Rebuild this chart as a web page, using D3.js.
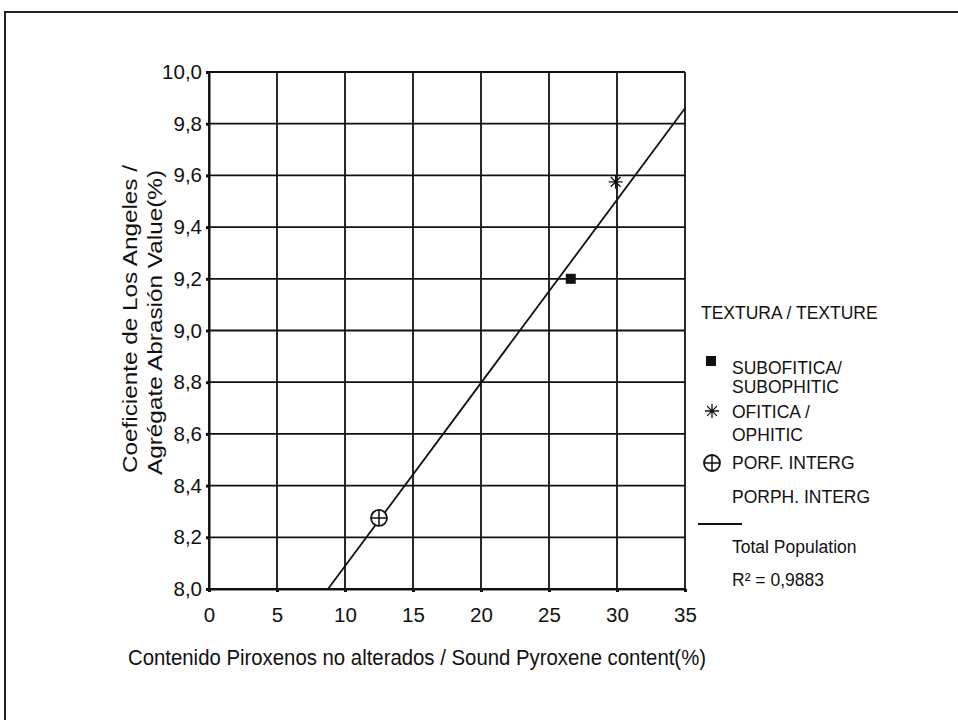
<!DOCTYPE html>
<html>
<head>
<meta charset="utf-8">
<script src="https://cdn.jsdelivr.net/npm/d3@7"></script>
<style>
  body { margin: 0; background: #fff; }
  text { font-family: "Liberation Sans", Arial, sans-serif; fill: #111; }
</style>
</head>
<body>
<div id="chart"></div>
<script>
// data
const xTicks = [0, 5, 10, 15, 20, 25, 30, 35];
const yTicks = [8.0, 8.2, 8.4, 8.6, 8.8, 9.0, 9.2, 9.4, 9.6, 9.8, 10.0];
const subofitica = [{x: 26.6, y: 9.2}];
const ofitica = [{x: 29.9, y: 9.575}];
const porfInterg = [{x: 12.5, y: 8.275}];
const trendX = [8.75, 35];
const trendY = [8.0, 9.86];
const rSquared = "0,9883";

const width = 958, height = 720;
const margin = {left: 209, right: 273, top: 72, bottom: 131};

const svg = d3.select("#chart").append("svg")
    .attr("width", width).attr("height", height);

// outer frame
svg.append("rect").attr("x", 5).attr("y", 12)
    .attr("width", 970).attr("height", 730)
    .attr("fill", "none").attr("stroke", "#222").attr("stroke-width", 2);

const x = d3.scaleLinear().domain([0, 35]).range([margin.left, width - margin.right]);
const y = d3.scaleLinear().domain([8, 10]).range([height - margin.bottom, margin.top]);

const fmt = d => d3.format(".1f")(d).replace(".", ",");

// grid
const g = svg.append("g");
g.selectAll(".vgrid").data(xTicks).enter().append("line")
    .attr("x1", d => x(d)).attr("x2", d => x(d))
    .attr("y1", y(8)).attr("y2", y(10))
    .attr("stroke", "#111").attr("stroke-width", 1.8);
g.selectAll(".hgrid").data(yTicks).enter().append("line")
    .attr("x1", x(0)).attr("x2", x(35))
    .attr("y1", d => y(d)).attr("y2", d => y(d))
    .attr("stroke", "#111").attr("stroke-width", 1.8);

// axes
const xAxis = svg.append("g").attr("transform", `translate(0,${y(8)})`)
    .call(d3.axisBottom(x).tickValues(xTicks).tickSize(3).tickPadding(15));
const yAxis = svg.append("g").attr("transform", `translate(${x(0)},0)`)
    .call(d3.axisLeft(y).tickValues(yTicks).tickFormat(fmt).tickSize(3).tickPadding(4));
[xAxis, yAxis].forEach(a => {
    a.select(".domain").attr("stroke", "#111").attr("stroke-width", 2);
    a.selectAll(".tick line").attr("stroke", "#111").attr("stroke-width", 3);
    a.selectAll(".tick text").attr("font-size", 20.5)
        .attr("font-family", "Liberation Sans, Arial, sans-serif").attr("fill", "#111");
});

// trend line
svg.append("line")
    .attr("x1", x(trendX[0])).attr("y1", y(trendY[0]))
    .attr("x2", x(trendX[1])).attr("y2", y(trendY[1]))
    .attr("stroke", "#111").attr("stroke-width", 1.8);

// markers
function square(sel, cx, cy) {
    sel.append("rect").attr("x", cx - 5).attr("y", cy - 5).attr("width", 10).attr("height", 10).attr("fill", "#111");
}
function star(sel, cx, cy) {
    const r = 7;
    sel.append("path")
        .attr("d", `M${cx - r},${cy}H${cx + r}M${cx - r * 0.7},${cy - r * 0.7}L${cx + r * 0.7},${cy + r * 0.7}M${cx - r * 0.7},${cy + r * 0.7}L${cx + r * 0.7},${cy - r * 0.7}M${cx},${cy - r}V${cy + r}`)
        .attr("stroke", "#111").attr("stroke-width", 1.3).attr("fill", "none");
}
function circlePlus(sel, cx, cy) {
    const r = 8;
    sel.append("circle").attr("cx", cx).attr("cy", cy).attr("r", r)
        .attr("fill", "#fff").attr("stroke", "#111").attr("stroke-width", 1.8);
    sel.append("path").attr("d", `M${cx - r},${cy}H${cx + r}M${cx},${cy - r}V${cy + r}`)
        .attr("stroke", "#111").attr("stroke-width", 1.5);
}
const pts = svg.append("g");
subofitica.forEach(d => square(pts, x(d.x), y(d.y)));
ofitica.forEach(d => star(pts, x(d.x), y(d.y)));
porfInterg.forEach(d => circlePlus(pts, x(d.x), y(d.y)));

// axis titles
svg.append("text").attr("x", 128).attr("y", 665).attr("font-size", 22)
    .attr("textLength", 578).attr("lengthAdjust", "spacingAndGlyphs")
    .text("Contenido Piroxenos no alterados / Sound Pyroxene content(%)");
svg.append("text").attr("transform", "rotate(-90)")
    .attr("x", -473).attr("y", 137).attr("font-size", 21)
    .attr("textLength", 308).attr("lengthAdjust", "spacingAndGlyphs")
    .text("Coeficiente de Los Angeles /");
svg.append("text").attr("transform", "rotate(-90)")
    .attr("x", -475).attr("y", 162).attr("font-size", 21)
    .attr("textLength", 305).attr("lengthAdjust", "spacingAndGlyphs")
    .text("Agrégate  Abrasión Value(%)");

// legend
const lg = svg.append("g");
const lt = (tx, ty, s) => lg.append("text").attr("x", tx).attr("y", ty + 6).attr("font-size", 17.5).text(s);
lt(701, 313, "TEXTURA / TEXTURE");
square(lg, 711, 361);
lt(732, 368, "SUBOFITICA/");
lt(732, 387, "SUBOPHITIC");
star(lg, 712, 411);
lt(732, 412, "OFITICA /");
lt(732, 435, "OPHITIC");
circlePlus(lg, 712, 463);
lt(732, 463, "PORF. INTERG");
lt(732, 497, "PORPH. INTERG");
lg.append("line").attr("x1", 698).attr("x2", 742).attr("y1", 524).attr("y2", 524)
    .attr("stroke", "#111").attr("stroke-width", 1.8);
lt(732, 547, "Total Population");
lt(732, 580, "R² = " + rSquared);
</script>
</body>
</html>
